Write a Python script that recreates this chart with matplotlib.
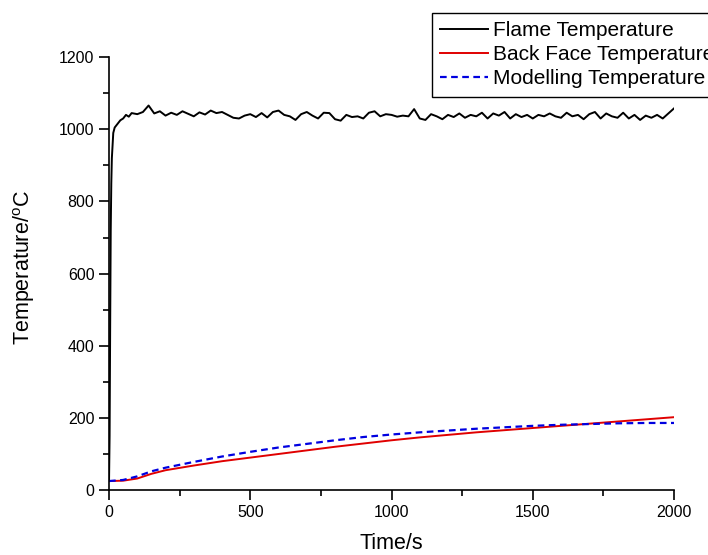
import matplotlib.pyplot as plt
from matplotlib.ticker import MultipleLocator

plt.rcParams['font.family'] = ['Liberation Sans', 'DejaVu Sans']
plt.rcParams['mathtext.fontset'] = 'custom'
plt.rcParams['mathtext.rm'] = 'Liberation Sans'

# flame temperature
flame_t = [0, 2, 4, 6, 8, 10, 15, 20, 30, 40, 50, 60, 70, 80] + list(range(100, 2001, 20))
flame_T = [25, 150, 450, 720, 850, 920, 990, 1005, 1015, 1025, 1030, 1040, 1035, 1045,
           1042, 1048, 1066, 1044, 1050, 1038, 1046, 1040, 1050, 1043,
           1036, 1047, 1041, 1052, 1045, 1048, 1040, 1032, 1030, 1038,
           1042, 1034, 1045, 1033, 1048, 1052, 1040, 1036, 1026, 1042,
           1048, 1038, 1030, 1046, 1045, 1028, 1024, 1040, 1034, 1036,
           1030, 1046, 1050, 1036, 1042, 1040, 1035, 1038, 1036, 1056,
           1030, 1026, 1042, 1036, 1028, 1040, 1034, 1044, 1032, 1040,
           1036, 1046, 1030, 1044, 1038, 1048, 1030, 1042, 1034, 1040,
           1030, 1040, 1036, 1044, 1036, 1032, 1046, 1036, 1040, 1028,
           1042, 1048, 1030, 1044, 1036, 1032, 1046, 1030, 1040, 1026,
           1038, 1032, 1040, 1030, 1044, 1058]

# back face and model
bf_t = [0, 50, 100, 150, 200, 300, 400, 500, 600, 700, 800, 900, 1000,
        1100, 1200, 1300, 1400, 1500, 1600, 1700, 1800, 1900, 2000]
bf_T = [25, 26, 32, 45, 55, 68, 80, 90, 100, 110, 120, 129, 138,
        146, 153, 160, 166, 172, 178, 184, 190, 196, 202]
mod_T = [25, 28, 38, 52, 62, 78, 93, 106, 118, 128, 138, 147, 154,
         160, 165, 170, 174, 178, 181, 183, 185, 186, 186]

fig = plt.figure(figsize=(7.08, 5.55), dpi=100)
ax = fig.add_axes([0.154, 0.117, 0.798, 0.780])

ax.plot(flame_t, flame_T, color='black', lw=1.4, label='Flame Temperature')
ax.plot(bf_t, bf_T, color='#e00000', lw=1.4, label='Back Face Temperature')
ax.plot(bf_t, mod_T, color='#0000e0', lw=1.6, ls=(0, (3, 2)), label='Modelling Temperature')

ax.set_xlim(0, 2000)
ax.set_ylim(0, 1200)
ax.xaxis.set_major_locator(MultipleLocator(500))
ax.xaxis.set_minor_locator(MultipleLocator(250))
ax.yaxis.set_major_locator(MultipleLocator(200))
ax.yaxis.set_minor_locator(MultipleLocator(100))
ax.tick_params(which='both', direction='out', width=1.2, labelsize=11.5)
ax.tick_params(which='major', length=7)
ax.tick_params(which='minor', length=4)
ax.spines['top'].set_visible(False)
ax.spines['right'].set_visible(False)
ax.spines['left'].set_linewidth(1.2)
ax.spines['bottom'].set_linewidth(1.2)

ax.set_xlabel('Time/s', fontsize=15.5)
ax.set_ylabel(r'Temperature/$^{\mathrm{o}}$C', fontsize=15.5)
ax.xaxis.set_label_coords(0.5, -0.099)
ax.yaxis.set_label_coords(-0.127, 0.513)

ax.legend(loc='upper left', bbox_to_anchor=(432 / 708, 1 - 13 / 555),
          bbox_transform=fig.transFigure, fontsize=15, frameon=True,
          fancybox=False, edgecolor='black', framealpha=1, borderaxespad=0,
          handlelength=2.3, handletextpad=0.25, labelspacing=0.24, borderpad=0.4)

plt.savefig('out.png', dpi=100)
